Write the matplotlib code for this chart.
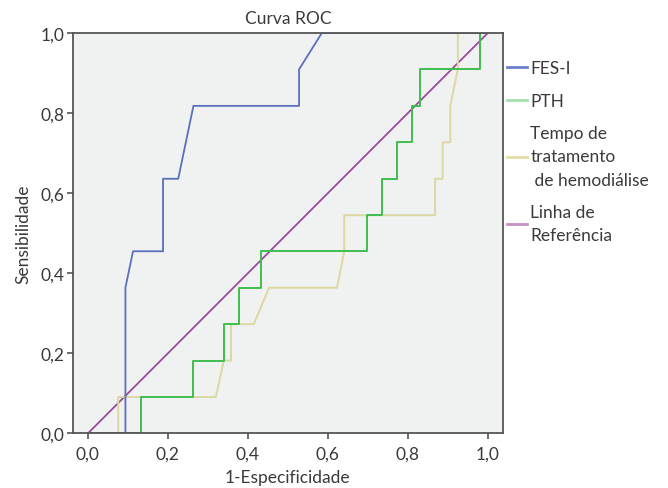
import matplotlib.pyplot as plt
from matplotlib.lines import Line2D
from matplotlib.ticker import FuncFormatter

# dados
fes_x = [0, 0.094, 0.094, 0.113, 0.188, 0.188, 0.226, 0.264, 0.528, 0.528, 0.585, 1.0]
fes_y = [0, 0, 0.364, 0.455, 0.455, 0.636, 0.636, 0.818, 0.818, 0.909, 1.0, 1.0]

pth_x = [0, 0.132, 0.132, 0.264, 0.264, 0.340, 0.340, 0.377, 0.377, 0.434, 0.434,
         0.698, 0.698, 0.736, 0.736, 0.774, 0.774, 0.811, 0.811, 0.830, 0.830, 0.981, 0.981]
pth_y = [0, 0, 0.091, 0.091, 0.182, 0.182, 0.273, 0.273, 0.364, 0.364, 0.455,
         0.455, 0.545, 0.545, 0.636, 0.636, 0.727, 0.727, 0.818, 0.818, 0.909, 0.909, 1.0]

tempo_x = [0, 0.076, 0.076, 0.320, 0.340, 0.358, 0.358, 0.415, 0.453, 0.623, 0.641,
           0.641, 0.868, 0.868, 0.887, 0.887, 0.906, 0.906, 0.925, 0.925, 1.0]
tempo_y = [0, 0, 0.091, 0.091, 0.182, 0.182, 0.273, 0.273, 0.364, 0.364, 0.455,
           0.545, 0.545, 0.636, 0.636, 0.727, 0.727, 0.818, 0.909, 1.0, 1.0]

ref_x = [0, 1]
ref_y = [0, 1]

ticks = [0.0, 0.2, 0.4, 0.6, 0.8, 1.0]
labels = ['FES-I', 'PTH', 'Tempo de\ntratamento\n de hemodiálise', 'Linha de\nReferência']

plt.rcParams['font.family'] = ['Lato', 'DejaVu Sans']
txt = '#3a3a3a'

fig = plt.figure(figsize=(6.68, 4.89), dpi=100)
ax = fig.add_axes([0.1093, 0.1115, 0.6432, 0.819])
ax.set_facecolor('#f0f1f1')

ax.plot(ref_x, ref_y, color='#9a4c9c', lw=1.3)
ax.plot(tempo_x, tempo_y, color='#dcd8a2', lw=1.4)
ax.plot(pth_x, pth_y, color='#3fbe4e', lw=1.4)
ax.plot(fes_x, fes_y, color='#5a70bd', lw=1.3)

ax.set_xlim(-0.037, 1.037)
ax.set_ylim(0, 1)
ax.set_xticks(ticks)
ax.set_yticks(ticks)
fmt = FuncFormatter(lambda v, p: f'{v:.1f}'.replace('.', ','))
ax.xaxis.set_major_formatter(fmt)
ax.yaxis.set_major_formatter(fmt)
ax.tick_params(direction='out', length=4, width=1.2, color='#555555',
               labelsize=12.5, labelcolor=txt)
ax.tick_params(axis='x', pad=5)
ax.tick_params(axis='y', pad=2)
for s in ax.spines.values():
    s.set_color('#555555')
    s.set_linewidth(1.3)

ax.set_title('Curva ROC', fontsize=12.5, color=txt, pad=7)
ax.set_xlabel('1-Especificidade', fontsize=12.5, color=txt, labelpad=5)
ax.set_ylabel('Sensibilidade', fontsize=12.5, color=txt, labelpad=7)

handles = [Line2D([], [], color='#6a80c6', lw=2),
           Line2D([], [], color='#a6e0b0', lw=2),
           Line2D([], [], color='#e2dea6', lw=2),
           Line2D([], [], color='#c391c4', lw=2)]
leg = fig.legend(handles, labels, loc='upper left', bbox_to_anchor=(0.7485, 0.889),
                 frameon=False, fontsize=12.5, handlelength=1.15, handletextpad=0.2,
                 labelspacing=0.95, borderaxespad=0)
for t in leg.get_texts():
    t.set_color(txt)
    t.set_linespacing(1.55)

plt.savefig('out.png', dpi=100)
